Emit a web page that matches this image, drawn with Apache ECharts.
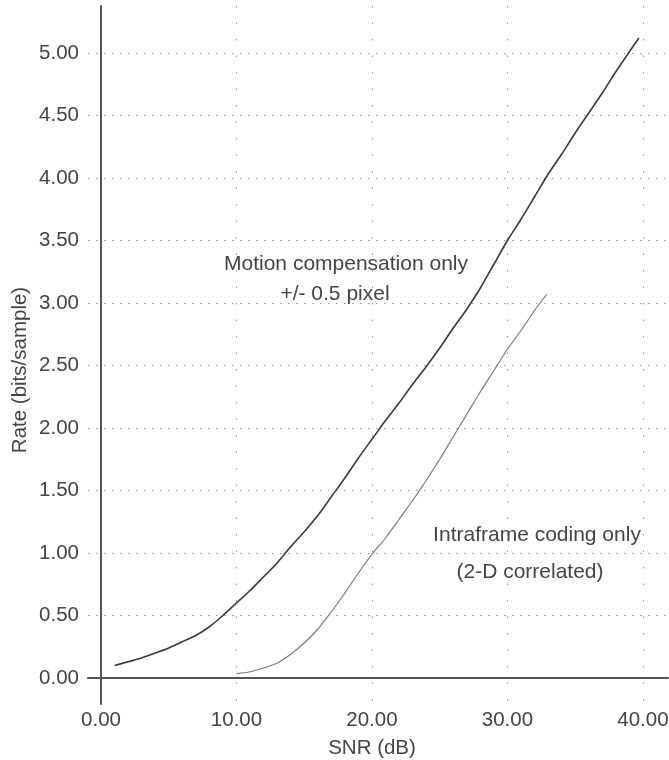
<!DOCTYPE html>
<html>
<head>
<meta charset="utf-8">
<style>
  html, body { margin: 0; padding: 0; background: #ffffff; }
  #chart { width: 669px; height: 760px; }
</style>
<script src="https://cdn.jsdelivr.net/npm/echarts@6/dist/echarts.min.js"></script>
</head>
<body>
<div id="chart"></div>
<script>
// Rate vs. SNR for two coding schemes
const motionSNR  = [1, 2, 3, 4, 5, 6, 7, 8, 9, 10, 11, 12, 13, 14, 15, 16, 17, 18, 19, 20,
                    21, 22, 23, 24, 25, 26, 27, 28, 29, 30, 31, 32, 33, 34, 35, 36, 37, 38, 39, 39.7];
const motionRate = [0.10, 0.13, 0.16, 0.20, 0.24, 0.29, 0.34, 0.41, 0.50, 0.60, 0.70, 0.81, 0.92, 1.05, 1.17, 1.30, 1.45, 1.60, 1.76, 1.91,
                    2.06, 2.20, 2.35, 2.49, 2.64, 2.80, 2.95, 3.12, 3.31, 3.50, 3.67, 3.85, 4.03, 4.19, 4.36, 4.52, 4.68, 4.85, 5.01, 5.12];

const intraSNR   = [10, 11, 12, 13, 14, 15, 16, 17, 18, 19, 20, 21, 22, 23, 24, 25, 26, 27, 28, 29, 30, 31, 32, 32.9];
const intraRate  = [0.035, 0.05, 0.08, 0.12, 0.19, 0.28, 0.39, 0.53, 0.68, 0.84, 0.99, 1.12, 1.27, 1.42, 1.58, 1.75, 1.93, 2.11, 2.29, 2.46, 2.63, 2.78, 2.94, 3.07];

const xTicks = [0, 10, 20, 30, 40];
const yTicks = [0, 0.5, 1, 1.5, 2, 2.5, 3, 3.5, 4, 4.5, 5];

const xTitle = 'SNR (dB)';
const yTitle = 'Rate (bits/sample)';
const motionLabel = ['Motion compensation only', '+/- 0.5 pixel'];
const intraLabel = ['Intraframe coding only', '(2-D correlated)'];

const FONT = '"Liberation Sans", Arial, sans-serif';
const TEXT = '#444444';

const zip = (xs, ys) => xs.map((x, i) => [x, ys[i]]);

const chart = echarts.init(document.getElementById('chart'), null, { renderer: 'canvas' });

const txt = (text, x, y, size, rotation) => ({
  type: 'text', x, y, rotation: rotation || 0,
  style: {
    text, fill: TEXT, font: (size || 21) + 'px ' + FONT,
    textAlign: 'center', textVerticalAlign: 'middle'
  }
});

chart.setOption({
  backgroundColor: '#ffffff',
  animation: false,
  grid: { left: 88, right: 1, top: 6, bottom: 56, containLabel: false, outerBoundsMode: 'none' },
  xAxis: {
    type: 'value',
    min: -0.96, max: 41.85,
    axisLine: { show: true, onZero: true, lineStyle: { color: '#555', width: 2 } },
    axisTick: { show: false, customValues: xTicks },
    axisLabel: {
      customValues: xTicks,
      formatter: v => v.toFixed(2),
      margin: 6, color: TEXT, fontSize: 20.5, fontFamily: FONT
    },
    splitLine: { show: true, lineStyle: { color: '#9a9a9a', width: 1, type: [1.5, 15] } }
  },
  yAxis: {
    type: 'value',
    min: -0.208, max: 5.376,
    axisLine: { show: true, onZero: true, lineStyle: { color: '#555', width: 2 } },
    axisTick: { show: false, customValues: yTicks },
    axisLabel: {
      customValues: yTicks,
      formatter: v => v.toFixed(2),
      margin: 9, color: TEXT, fontSize: 20.5, fontFamily: FONT
    },
    splitLine: { show: true, lineStyle: { color: '#9a9a9a', width: 1, type: [1.5, 6.5] } }
  },
  series: [
    {
      name: 'Motion compensation only',
      type: 'line',
      data: zip(motionSNR, motionRate),
      smooth: 0.3,
      showSymbol: false,
      lineStyle: { color: '#3a3a3a', width: 1.6 }
    },
    {
      name: 'Intraframe coding only',
      type: 'line',
      data: zip(intraSNR, intraRate),
      smooth: 0.3,
      showSymbol: false,
      lineStyle: { color: '#7a7a7a', width: 1.2 }
    }
  ],
  graphic: [
    txt(motionLabel[0], 346, 264),
    txt(motionLabel[1], 335, 294),
    txt(intraLabel[0], 537, 535),
    txt(intraLabel[1], 530, 572),
    txt(xTitle, 372, 748, 20.5),
    txt(yTitle, 20, 370, 20.5, Math.PI / 2)
  ]
});
</script>
</body>
</html>
